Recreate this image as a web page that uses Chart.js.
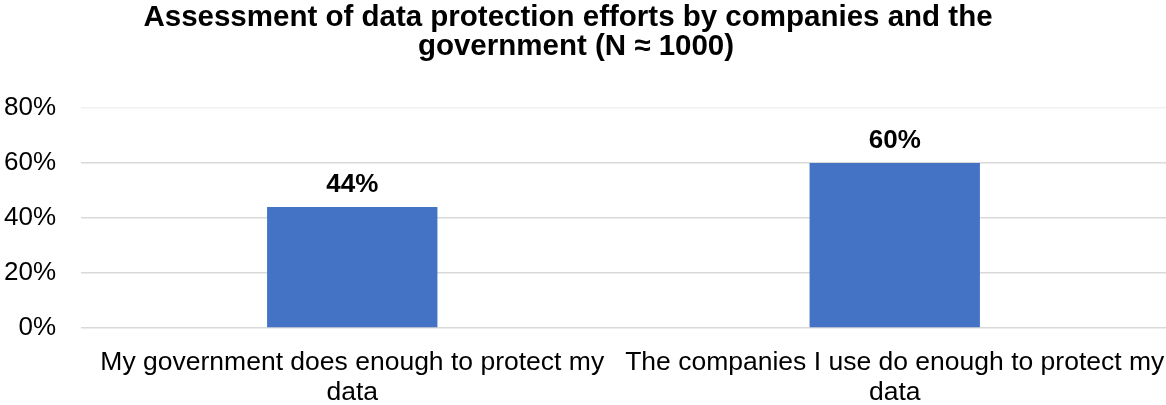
<!DOCTYPE html>
<html>
<head>
<meta charset="utf-8">
<title>Assessment of data protection efforts</title>
<script src="https://cdn.jsdelivr.net/npm/chart.js@4.4.0/dist/chart.umd.min.js"></script>
<style>
  html, body { margin: 0; padding: 0; background: #ffffff; }
  #wrap { width: 1166px; height: 405px; position: relative; }
</style>
</head>
<body>
<div id="wrap"><canvas id="chart" width="1166" height="405"></canvas></div>
<script>
// Survey results (share of respondents agreeing, %)
const categories = [
  ["My government does enough to protect my", "data"],
  ["The companies I use do enough to protect my", "data"]
];
const agreeShare = [44, 60];
const yTickValues = [0, 20, 40, 60, 80];
const titleLines = [
  "Assessment of data protection efforts by companies and the",
  "government (N \u2248 1000)"
];

const FONT = "'Liberation Sans', Arial, Helvetica, sans-serif";

// Two-line heading, each line centred on its own x
const headingPlugin = {
  id: 'heading',
  afterDraw(chart) {
    const ctx = chart.ctx;
    ctx.save();
    ctx.fillStyle = '#000000';
    ctx.font = 'bold 29.5px ' + FONT;
    ctx.textAlign = 'center';
    ctx.textBaseline = 'alphabetic';
    ctx.fillText(titleLines[0], 568, 26);
    ctx.fillText(titleLines[1], 576, 55);
    ctx.restore();
  }
};

// Value labels above each bar
const valueLabelPlugin = {
  id: 'valueLabels',
  afterDatasetsDraw(chart) {
    const ctx = chart.ctx;
    const meta = chart.getDatasetMeta(0);
    ctx.save();
    ctx.fillStyle = '#000000';
    ctx.font = 'bold 26px ' + FONT;
    ctx.textAlign = 'center';
    ctx.textBaseline = 'alphabetic';
    meta.data.forEach((bar, i) => {
      ctx.fillText(agreeShare[i] + '%', bar.x, bar.y - 15);
    });
    ctx.restore();
  }
};

new Chart(document.getElementById('chart'), {
  type: 'bar',
  data: {
    labels: categories,
    datasets: [{
      data: agreeShare,
      backgroundColor: '#4472C4',
      borderWidth: 0,
      categoryPercentage: 1.0,
      barPercentage: 0.314
    }]
  },
  options: {
    responsive: false,
    animation: false,
    layout: { padding: { top: 108, left: 4, right: -2, bottom: 0 } },
    plugins: {
      legend: { display: false },
      title: { display: false },
      tooltip: { enabled: false }
    },
    scales: {
      x: {
        grid: { display: false, drawTicks: false },
        border: { display: false },
        ticks: {
          color: '#000000',
          font: { family: FONT, size: 26.5, lineHeight: 1.132 },
          maxRotation: 0,
          minRotation: 0,
          autoSkip: false,
          padding: 20
        },
        afterFit(scale) {
          scale.paddingLeft = 0;
          scale.paddingRight = 0;
          scale.height = 77;
        }
      },
      y: {
        min: 0,
        max: 80,
        afterBuildTicks(axis) {
          axis.ticks = yTickValues.map(v => ({ value: v }));
        },
        afterFit(axis) {
          axis.width = 77;
        },
        grid: {
          drawTicks: false,
          lineWidth: 1.5,
          color: ctx => (ctx.tick && ctx.tick.value === 80) ? '#f0f0f0' : '#d9d9d9'
        },
        border: { display: false },
        ticks: {
          color: '#000000',
          font: { family: FONT, size: 26 },
          padding: 25,
          callback: v => v + '%'
        }
      }
    }
  },
  plugins: [headingPlugin, valueLabelPlugin]
});
</script>
</body>
</html>
